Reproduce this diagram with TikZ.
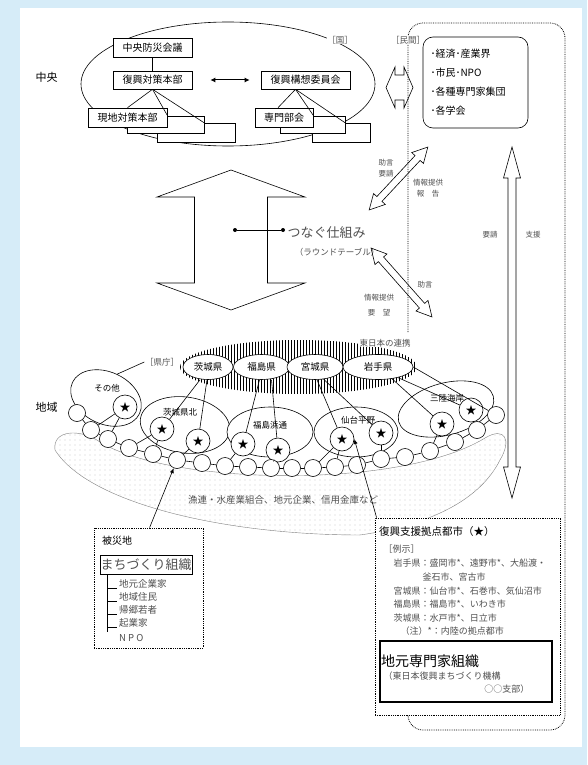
\documentclass[tikz,border=0pt]{standalone}
\usepackage{fontspec}
\setmainfont{Noto Sans CJK JP}
\usetikzlibrary{patterns.meta,shapes.geometric,arrows.meta}
\definecolor{bgblue}{RGB}{214,236,248}
\definecolor{txtgray}{RGB}{80,80,80}
\newcommand\myfs[1]{\fontsize{#1}{#1}\selectfont}
\newcommand\hollowdbl[7]{%
\begin{scope}[shift={(#1,#2)},rotate=#3]
\draw[line width=0.6pt] ({-#4/2},0) -- ({-#4/2+#7},#6) -- ({-#4/2+#7},#5) -- ({#4/2-#7},#5) -- ({#4/2-#7},#6) -- ({#4/2},0) -- ({#4/2-#7},{-#6}) -- ({#4/2-#7},{-#5}) -- ({-#4/2+#7},{-#5}) -- ({-#4/2+#7},{-#6}) -- cycle;
\end{scope}}
\begin{document}
\begin{tikzpicture}[x=1pt,y=-1pt,
  box/.style={draw,fill=white,line width=0.6pt,inner sep=0pt,minimum height=19pt,font=\myfs{10}},
  lbl/.style={text=txtgray,inner sep=0.5pt},
  starn/.style={circle,draw,fill=white,minimum size=24pt,inner sep=0pt,line width=0.6pt,font=\myfs{11}},
  smc/.style={circle,draw,fill=white,minimum size=17pt,inner sep=0pt,line width=0.6pt},
  pref/.style={ellipse,draw,fill=white,minimum height=25pt,inner sep=0pt,line width=0.6pt,font=\myfs{9.5}},
  region/.style={ellipse,draw,fill=white,inner sep=0pt,line width=0.6pt},
  dotb/.style={draw,densely dotted,line width=0.8pt,fill=white},
  lin/.style={line width=0.6pt},
  tip/.style={-{Latex[length=5pt,width=4pt]}},
  plain/.style={inner sep=0pt},
]
\fill[bgblue] (0,0) rectangle (587,765);
\fill[white] (20,8) rectangle (582,747);
\useasboundingbox (0,0) rectangle (587,765);

% ---------- central government ----------
\draw[lin] (228,84) ellipse [x radius=147, y radius=62];
\node[lbl,fill=white,font=\myfs{8.5}] (kuni) at (340,40) {［国］};

\node[box,minimum width=78pt] (gen3) at (196,132.5) {};
\node[box,minimum width=77pt,minimum height=17pt] (gen2) at (165.5,124.5) {};
\node[box,minimum width=79pt] (genchi) at (127.5,117.5) {現地対策本部};
\node[box,minimum width=58pt] (sen3) at (341,132.5) {};
\node[box,minimum width=65pt,minimum height=17pt] (sen2) at (312.5,124.5) {};
\node[box,minimum width=58pt] (senmon) at (284,117.5) {専門部会};
\node[box,minimum width=79pt] (chuo) at (152.5,47.5) {中央防災会議};
\node[box,minimum width=79pt,minimum height=18pt] (honbu) at (152.5,80) {復興対策本部};
\node[box,minimum width=89pt,minimum height=18pt] (kouso) at (305.5,80) {復興構想委員会};

\draw[lin] (chuo) -- (honbu);
\draw[lin] (honbu.south) -- (genchi.north);
\draw[lin] (honbu.south) -- ([xshift=2pt]gen2.north);
\draw[lin] (honbu.south) -- ([xshift=8pt]gen3.north);
\coordinate (kb) at ([xshift=-10pt]kouso.south);
\draw[lin] (kb) -- ([xshift=-6pt]senmon.north);
\draw[lin] (kb) -- ([xshift=1pt]sen2.north);
\draw[lin] (kb) -- ([xshift=4pt]sen3.north);
\draw[{Latex[length=5pt,width=5pt]}-{Latex[length=5pt,width=5pt]},line width=1pt,shorten <=18pt,shorten >=11pt] (honbu) -- (kouso);

\node[plain,font=\myfs{11}] (lchuo) at (46.5,77) {中央};

% ---------- private sector ----------
\draw[densely dotted,line width=0.8pt,rounded corners=15pt] (408,332) -- (408,23) -- (565,23) -- (565,730) -- (408,730) -- (408,712);
\node[lbl,fill=white,font=\myfs{8.5}] (minlbl) at (408,40) {［民間］};
\node[draw,fill=white,line width=0.6pt,rounded corners=10pt,minimum width=105pt,minimum height=91pt,inner sep=0pt,text width=90pt,align=left,font=\fontsize{10}{19}\selectfont] (minkan) at (475.5,82.5) {･経済･産業界\\･市民･NPO\\･各種専門家集団\\･各学会};
\hollowdbl{399.5}{87.5}{0}{27}{12.5}{20.5}{9}

% ---------- round table ----------
\hollowdbl{231}{240}{90}{140}{36.5}{74}{27}
\node[circle,fill,inner sep=0pt,minimum size=4pt] (d1) at (235,230) {};
\node[circle,fill,inner sep=0pt,minimum size=4pt] (d2) at (283,230) {};
\draw[lin] (d1) -- (d2);
\node[lbl,anchor=west,font=\myfs{13}] (tsunagu) at (287,233) {つなぐ仕組み};
\node[lbl,font=\myfs{8.5}] (round) at (337,252) {（ラウンドテーブル）};

\hollowdbl{398.5}{178.5}{47}{86}{3.5}{8}{15}
\hollowdbl{401.5}{282.5}{-48.5}{92}{3.5}{8}{15}
\node[lbl,font=\myfs{7.5}] (a1) at (386,163) {助言};
\node[lbl,font=\myfs{7.5}] (a2) at (386,174) {要請};
\node[lbl,font=\myfs{7.5}] (a3) at (428,183) {情報提供};
\node[lbl,font=\myfs{7.5}] (a4) at (428,194) {報　告};
\node[lbl,font=\myfs{7.5}] (a5) at (425,285) {助言};
\node[lbl,font=\myfs{7.5}] (a6) at (379,298) {情報提供};
\node[lbl,font=\myfs{7.5}] (a7) at (379,313) {要　望};

\hollowdbl{512}{322.5}{90}{351}{4}{8.5}{31}
\node[lbl,font=\myfs{7.5}] (yousei) at (490,235) {要請};
\node[lbl,font=\myfs{7.5}] (shien) at (533,235) {支援};

% ---------- region ----------
\node[plain,font=\myfs{11}] (lchiiki) at (46.5,407) {地域};
\fill[pattern={Lines[angle=90,distance=3pt,line width=0.45pt]}] (298.5,367) ellipse [x radius=118.5, y radius=27];
\draw[gray,line width=0.4pt,pattern={Dots[distance=5pt,radius=0.45pt]},pattern color=black!55]
  (55,450) .. controls (52,430) and (80,428) .. (100,442)
  .. controls (170,485) and (400,490) .. (485,438)
  .. controls (505,426) and (512,440) .. (500,460)
  .. controls (480,500) and (430,525) .. (360,535)
  .. controls (230,535) and (90,505) .. (55,450) -- cycle;
\node[lbl,font=\myfs{9.5}] (gyoren) at (283,500) {漁連・水産業組合、地元企業、信用金庫など};

\node[region,minimum width=74pt,minimum height=52pt,rotate=-25] (rsonota) at (106,398) {};
\node[region,minimum width=90pt,minimum height=56pt,rotate=-8] (ribkita) at (185,425) {};
\node[region,minimum width=86pt,minimum height=50pt] (rhama) at (270,432) {};
\node[region,minimum width=84pt,minimum height=50pt] (rsendai) at (356,432) {};
\node[region,minimum width=98pt,minimum height=52pt,rotate=15] (rsanriku) at (446,409) {};
\node[plain,font=\myfs{8.5}] (tsonota) at (107,388) {その他};
\node[plain,font=\myfs{8.5}] (tibkita) at (180,412) {茨城県北};
\node[plain,font=\myfs{8.5}] (thama) at (270,425) {福島浜通};
\node[plain,font=\myfs{8.5}] (tsendai) at (358,420) {仙台平野};
\node[plain,font=\myfs{8.5}] (tsanriku) at (447,398) {三陸海岸};

\node[pref,minimum width=50pt] (ibaraki) at (208,367) {茨城県};
\node[pref,minimum width=56pt] (fukushima) at (261.5,367) {福島県};
\node[pref,minimum width=56pt] (miyagi) at (315,367) {宮城県};
\node[pref,minimum width=70pt] (iwate) at (378,367) {岩手県};
\node[lbl,fill=white,font=\myfs{8.5}] (renkei) at (385,343) {東日本の連携};
\node[lbl,font=\myfs{8.5}] (kencho) at (162,362) {［県庁］};
\draw[lin] (kencho.west) -- (rsonota.north);

\foreach \n/\x/\y in {s0/125/407,s1/162/429,s2/198/441,s3/243/444,s4/278/450,s5/342/439,s6/381/433,s7/442/424,s8/471/410}
  \node[starn] (\n) at (\x,\y) {★};
\foreach \i/\x/\y in {1/77/413,2/91/430,3/108/439,4/129/448,5/153/454,6/177/460,7/202/463,8/225/466,9/248/467,10/271/468,11/292/468,12/313/468,13/335/467,14/357/465,15/381/459,16/405/457,17/430/451,18/455/442,19/477/430,20/496/415}
  \node[smc] (c\i) at (\x,\y) {};
\foreach \i in {1,...,19}{
  \pgfmathtruncatemacro{\j}{\i+1}
  \draw[lin] (c\i) -- (c\j);
}
\draw[lin] (s0) -- (c2); \draw[lin] (s0) -- (c3);
\draw[lin] (s1) -- (c4); \draw[lin] (s1) -- (c5);
\draw[lin] (s2) -- (c6);
\draw[lin] (s3) -- (c8);
\draw[lin] (s4) -- (c10);
\draw[lin] (s5) -- (c12); \draw[lin] (s5) -- (c13);
\draw[lin] (s6) -- (c15);
\draw[lin] (s7) -- (c17);
\draw[lin] (s8) -- (c19);
\draw[lin] ([xshift=-8pt]ibaraki.south) -- (s1);
\draw[lin] ([xshift=-1pt]ibaraki.south) -- (s2);
\draw[lin] ([xshift=-2pt]fukushima.south) -- (s3);
\draw[lin] ([xshift=10pt]fukushima.south) -- (s4);
\draw[lin] ([xshift=2pt]miyagi.south) -- (s5);
\draw[lin] (miyagi.-55) -- (s6);
\draw[lin] (iwate.-40) -- (s7);
\draw[lin] (iwate.-28) -- (s8);
\draw[lin] (iwate.east) -- (c20);

% ---------- disaster area box ----------
\node[dotb,minimum width=109pt,minimum height=120pt] (hisaichi) at (148.5,588) {};
\draw[lin,tip] ([xshift=56pt]hisaichi.north west) -- (c6);
\node[plain,anchor=west,font=\myfs{10}] (hlabel) at (102,541) {被災地};
\node[draw,line width=0.8pt,fill=white,inner sep=0.5pt,minimum width=90pt,minimum height=19pt,text=txtgray,font=\myfs{13}] (machi) at (146,564.5) {まちづくり組織};
\node[lbl,anchor=west,inner sep=2pt,font=\myfs{9.5}] (i1) at (117,584) {地元企業家};
\node[lbl,anchor=west,inner sep=2pt,font=\myfs{9.5}] (i2) at (117,597) {地域住民};
\node[lbl,anchor=west,inner sep=2pt,font=\myfs{9.5}] (i3) at (117,610) {帰郷若者};
\node[lbl,anchor=west,inner sep=2pt,font=\myfs{9.5}] (i4) at (117,623) {起業家};
\node[lbl,anchor=west,inner sep=2pt,font=\myfs{9.5}] (i5) at (117,638) {N P O};
\coordinate (trunk) at ([xshift=8pt]machi.south west);
\draw[lin] (trunk) -- (trunk |- i5.north);
\foreach \k in {i1,i2,i3,i4} \draw[lin] (trunk) |- ([yshift=-4pt]\k.west);

% ---------- base cities box ----------
\node[dotb,minimum width=185pt,minimum height=197pt] (kyoten) at (467.5,616.5) {};
\draw[lin,tip] ([xshift=2pt]kyoten.north west) -- (s5.east);
\node[plain,anchor=west,font=\myfs{10.5}] (k0) at (379,532) {復興支援拠点都市（★）};
\node[lbl,anchor=west,font=\myfs{9}] (k1) at (383,549) {［例示］};
\node[lbl,anchor=west,font=\myfs{9}] (k2) at (393,563) {岩手県：盛岡市*、遠野市*、大船渡・};
\node[lbl,anchor=west,font=\myfs{9}] (k3) at (422,577) {釜石市、宮古市};
\node[lbl,anchor=west,font=\myfs{9}] (k4) at (393,591) {宮城県：仙台市*、石巻市、気仙沼市};
\node[lbl,anchor=west,font=\myfs{9}] (k5) at (393,604) {福島県：福島市*、いわき市};
\node[lbl,anchor=west,font=\myfs{9}] (k6) at (393,618) {茨城県：水戸市*、日立市};
\node[lbl,anchor=west,font=\myfs{9}] (k7) at (400,631) {（注）*：内陸の拠点都市};
\node[draw,line width=1.2pt,fill=white,minimum width=172pt,minimum height=61pt] (jimoto) at (466,671.5) {};
\node[plain,anchor=west,font=\myfs{14}] (j1) at (381,661) {地元専門家組織};
\node[lbl,anchor=west,font=\myfs{9}] (j2) at (383,676) {（東日本復興まちづくり機構};
\node[lbl,anchor=east,font=\myfs{9}] (j3) at (530,689) {○○支部）};
\end{tikzpicture}
\end{document}
